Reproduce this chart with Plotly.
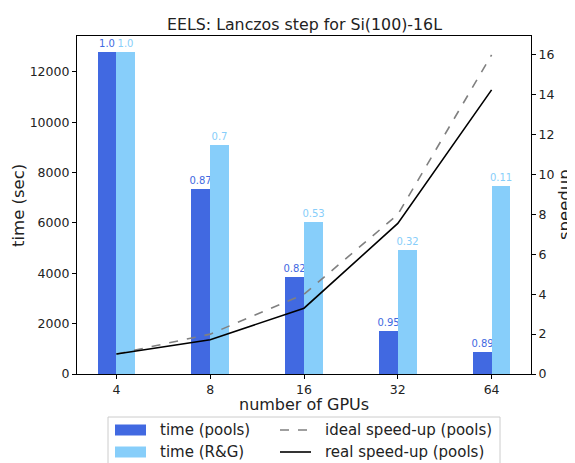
import plotly.graph_objects as go

gpus = ["4", "8", "16", "32", "64"]
pos = [0, 1, 2, 3, 4]
time_pools = [12780, 7340, 3870, 1690, 890]
time_rg = [12780, 9080, 6030, 4930, 7480]
eff_pools = ["1.0", "0.87", "0.82", "0.95", "0.89"]
eff_rg = ["1.0", "0.7", "0.53", "0.32", "0.11"]
ideal_speedup = [1, 2, 4, 8, 16]
real_speedup = [1, 1.72, 3.3, 7.55, 14.25]

C_POOLS = "#4169E1"
C_RG = "#87CEFA"
FONT = "DejaVu Sans"
TXT = "#222"

# the page body has an 8px margin, so the figure is drawn 8px right/down;
# margins are chosen so the plot area lands at screen x 77..531, y 36..374
W, H = 575, 463
OFF = 8
X0, X1, Y0, Y1 = 77, 531, 36, 374
L, T = X0 - OFF, Y0 - OFF
R, B = W - (X1 - OFF), H - (Y1 - OFF)
PW, PH = X1 - X0, Y1 - Y0


def px(x):
    return (x - X0) / PW


def py(y):
    return (Y1 - y) / PH


fig = go.Figure()
fig.add_trace(go.Bar(x=pos, y=time_pools, width=0.2, offset=-0.2, marker_color=C_POOLS,
                     marker_line_width=0, name="time (pools)", text=eff_pools,
                     textposition="outside", constraintext="none",
                     textfont=dict(color=C_POOLS, size=10, family=FONT),
                     cliponaxis=False, showlegend=False))
fig.add_trace(go.Bar(x=pos, y=time_rg, width=0.2, offset=0, marker_color=C_RG,
                     marker_line_width=0, name="time (R&G)", text=eff_rg,
                     textposition="outside", constraintext="none",
                     textfont=dict(color=C_RG, size=10, family=FONT),
                     cliponaxis=False, showlegend=False))
fig.add_trace(go.Scatter(x=pos, y=ideal_speedup, mode="lines", yaxis="y2",
                         line=dict(color="#808080", dash="dash", width=1.6),
                         name="ideal speed-up (pools)", showlegend=False))
fig.add_trace(go.Scatter(x=pos, y=real_speedup, mode="lines", yaxis="y2",
                         line=dict(color="black", width=1.6),
                         name="real speed-up (pools)", showlegend=False))

axis_common = dict(showline=True, linecolor="black", linewidth=1.2, ticks="outside",
                   ticklen=4, tickcolor="black", showgrid=False, zeroline=False,
                   automargin=False,
                   tickfont=dict(size=12.5, family=FONT, color=TXT))

# manual legend (two columns, column-major like the original)
shapes = [dict(type="rect", xref="paper", yref="paper", x0=px(108), x1=px(500),
               y0=py(480), y1=py(417), line=dict(color="#cccccc", width=1),
               fillcolor="white", layer="above")]
annotations = []
entries = [
    ("patch", C_POOLS, None, "time (pools)", 115, 430),
    ("patch", C_RG, None, "time (R&G)", 115, 452),
    ("line", "#808080", "dash", "ideal speed-up (pools)", 280, 430),
    ("line", "black", "solid", "real speed-up (pools)", 280, 452),
]
for kind, col, dash, label, x0, yc in entries:
    if kind == "patch":
        shapes.append(dict(type="rect", xref="paper", yref="paper", x0=px(x0), x1=px(x0 + 31),
                           y0=py(yc + 5.5), y1=py(yc - 5.5), line=dict(width=0),
                           fillcolor=col, layer="above"))
        tx = 158
    else:
        shapes.append(dict(type="line", xref="paper", yref="paper", x0=px(x0), x1=px(x0 + 31),
                           y0=py(yc), y1=py(yc), line=dict(color=col, width=1.6, dash=dash),
                           layer="above"))
        tx = 322.5
    annotations.append(dict(text=label, xref="paper", yref="paper", x=px(tx), y=py(yc),
                            xanchor="left", yanchor="middle", showarrow=False,
                            font=dict(size=15, family=FONT, color=TXT)))

# axis titles and chart title
annotations += [
    dict(text="time (sec)", xref="paper", yref="paper", x=px(18), y=py(205), textangle=-90,
         xanchor="center", yanchor="middle", showarrow=False,
         font=dict(size=16.5, family=FONT, color=TXT)),
    dict(text="speedup", xref="paper", yref="paper", x=px(564), y=py(205), textangle=-90,
         xanchor="center", yanchor="middle", showarrow=False,
         font=dict(size=16.5, family=FONT, color=TXT)),
    dict(text="number of GPUs", xref="paper", yref="paper", x=px(304), y=py(404.5),
         xanchor="center", yanchor="middle", showarrow=False,
         font=dict(size=16, family=FONT, color=TXT)),
    dict(text="EELS: Lanczos step for Si(100)-16L", xref="paper", yref="paper", x=px(304.5),
         y=py(24), xanchor="center", yanchor="middle", showarrow=False,
         font=dict(size=15.8, family=FONT, color=TXT)),
]

fig.update_layout(
    width=W, height=H,
    margin=dict(l=L, r=R, t=T, b=B),
    plot_bgcolor="white", paper_bgcolor="white",
    barmode="overlay", bargap=0,
    font=dict(family=FONT, color=TXT),
    showlegend=False,
    xaxis=dict(**axis_common, range=[-0.42, 4.42], tickvals=pos, ticktext=gpus, mirror=True),
    yaxis=dict(**axis_common, range=[0, 13420], tickvals=[0, 2000, 4000, 6000, 8000, 10000, 12000],
               tickformat="d"),
    yaxis2=dict(**axis_common, range=[0, 16.95], overlaying="y", side="right",
                tickvals=[0, 2, 4, 6, 8, 10, 12, 14, 16]),
    shapes=shapes,
    annotations=annotations,
)

fig.write_html("out.html")
